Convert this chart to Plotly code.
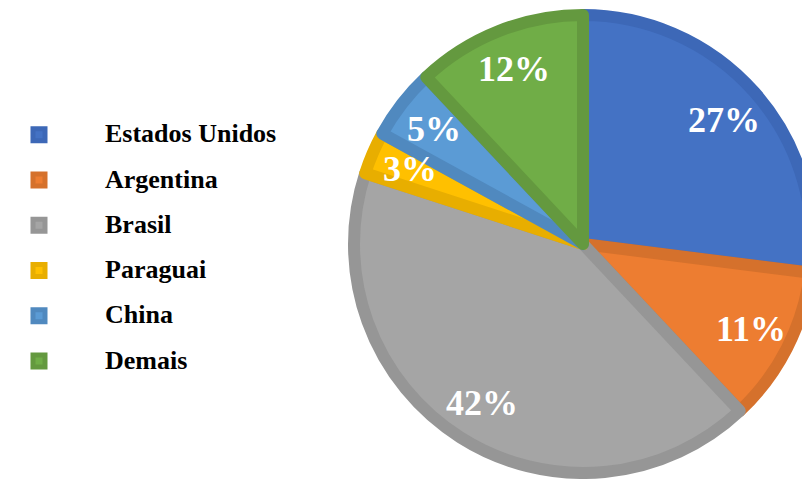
import math
import plotly.graph_objects as go

# ---- data ----
categories = ["Estados Unidos", "Argentina", "Brasil", "Paraguai", "China", "Demais"]
shares = [27, 11, 42, 3, 5, 12]

# ---- styles ----
fill_colors = ["#4472C4", "#ED7D31", "#A5A5A5", "#FFC000", "#5B9BD5", "#70AD47"]
edge_colors = ["#3D68B7", "#D5712C", "#969696", "#E8AE00", "#5089BF", "#64993F"]

W, H = 836, 479
EDGE_W = 12
R = 235 - EDGE_W / 2   # pie radius in px (stroke adds half its width outside)
CX, CY = 583, 244      # pie centre in px (from top-left)
LABEL_R = 0.8 * 235
SERIF = "Liberation Serif, Times New Roman, serif"

legend_labels = [
    '<span style="font-size:27px">\u2003</span>'
    f'<span style="font-size:26px;baseline-shift:5px">{c}</span>'
    for c in categories
]

fig = go.Figure(
    go.Pie(
        labels=legend_labels,
        values=shares,
        sort=False,
        direction="clockwise",
        rotation=0,
        marker=dict(colors=fill_colors, line=dict(color=edge_colors, width=EDGE_W)),
        textinfo="none",
        hoverinfo="label+percent",
        domain=dict(
            x=[(CX - R) / W, (CX + R) / W],
            y=[(H - CY - R) / H, (H - CY + R) / H],
        ),
    )
)

# percentage labels placed along each slice's mid-angle (derived from the data)
total = sum(shares)
cum = 0
for v in shares:
    mid = (cum + v / 2) / total * 2 * math.pi
    cum += v
    px = CX + LABEL_R * math.sin(mid)
    py = CY - LABEL_R * math.cos(mid)
    fig.add_annotation(
        x=px / W, y=1 - py / H, xref="paper", yref="paper",
        text=f"{round(100 * v / total)}%", showarrow=False,
        xanchor="center", yanchor="middle",
        font=dict(family=SERIF, size=36, color="white", weight="bold"),
    )

fig.update_layout(
    width=W,
    height=H,
    margin=dict(l=0, r=0, t=0, b=0),
    paper_bgcolor="white",
    showlegend=True,
    legend=dict(
        x=0,
        xanchor="left",
        y=1 - 248 / H,
        yanchor="middle",
        itemwidth=68,
        font=dict(family=SERIF, size=32.5, color="black", weight="bold"),
        bgcolor="rgba(0,0,0,0)",
    ),
)

fig.write_html(
    "out.html",
    config={"displayModeBar": False},
    post_script="document.body.style.margin='0';document.body.style.overflow='hidden';"
                "document.documentElement.style.overflow='hidden';",
)
